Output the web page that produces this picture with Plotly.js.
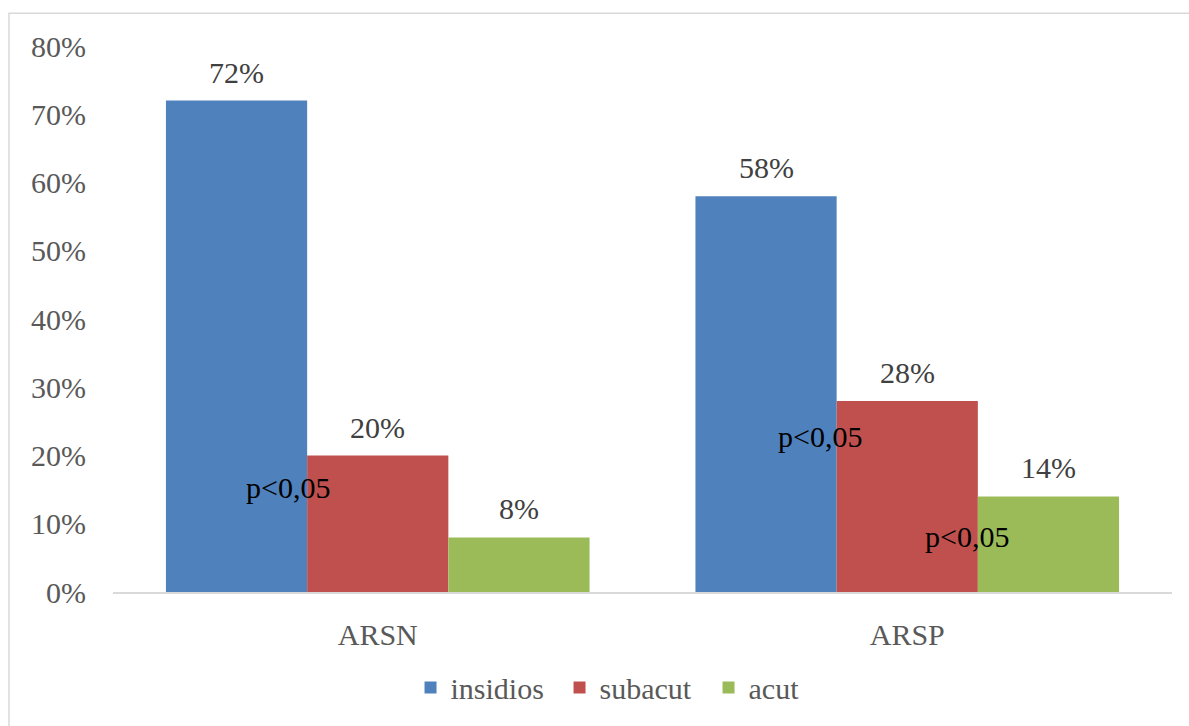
<!DOCTYPE html>
<html>
<head>
<meta charset="utf-8">
<script src="https://cdn.plot.ly/plotly-3.0.1.min.js"></script>
<style>html,body{margin:0;padding:0;background:#fff;}#chart{width:1189px;height:726px;}</style>
</head>
<body>
<div id="chart"></div>
<script>
const categories = ["ARSN", "ARSP"];
const seriesNames = ["insidios", "subacut", "acut"];
const insidios = [0.72, 0.58];
const subacut = [0.20, 0.28];
const acut = [0.08, 0.14];
const seriesColors = ["#4F81BD", "#C0504D", "#9BBB59"];
const yTickVals = [0, 0.1, 0.2, 0.3, 0.4, 0.5, 0.6, 0.7, 0.8];

// p-value annotations
const pLabelText = ["p<0,05", "p<0,05", "p<0,05"];
const pLabelCat = [0, 1, 1];
const pLabelOffset = [-0.17, -0.165, 0.113];
const pLabelY = [0.153, 0.228, 0.082];

const serif = "Liberation Serif, Times New Roman, serif";
const seriesValues = [insidios, subacut, acut];
const bargap = 0.2;
const nSeries = seriesValues.length;

const traces = seriesValues.map((vals, i) => ({
  type: "bar",
  name: seriesNames[i],
  x: categories,
  y: vals,
  marker: {color: seriesColors[i]},
  hoverinfo: "skip"
}));

// value labels above bars, placed through the axis scales
const valueLabels = [];
seriesValues.forEach((vals, i) => {
  const off = (i - (nSeries - 1) / 2) * (1 - bargap) / nSeries;
  vals.forEach((v, c) => {
    valueLabels.push({
      xref: "x", yref: "y",
      x: c + off, y: v,
      yanchor: "bottom",
      yshift: 10,
      text: Math.round(v * 100) + "%",
      showarrow: false,
      font: {family: serif, size: 30, color: "#404040"}
    });
  });
});

const pLabels = pLabelText.map((t, i) => ({
  xref: "x", yref: "y",
  x: pLabelCat[i] + pLabelOffset[i],
  y: pLabelY[i],
  text: t.replace("<", "&lt;"),
  showarrow: false,
  font: {family: serif, size: 30, color: "#000000"}
}));

const layout = {
  width: 1189, height: 726,
  margin: {l: 113, r: 17, t: 46, b: 132},
  paper_bgcolor: "#ffffff",
  plot_bgcolor: "#ffffff",
  font: {family: serif, size: 30, color: "#595959"},
  barmode: "group",
  bargap: bargap,
  bargroupgap: 0,
  showlegend: true,
  legend: {
    orientation: "h",
    x: 0.492, xanchor: "center",
    y: -0.175, yanchor: "middle",
    font: {family: serif, size: 30, color: "#595959"},
    traceorder: "normal",
    entrywidth: 104,
    entrywidthmode: "pixels"
  },
  xaxis: {
    type: "category",
    showline: true, linecolor: "#d9d9d9", linewidth: 2,
    ticks: "", showgrid: false,
    tickfont: {family: serif, size: 30, color: "#595959"},
    ticklabelstandoff: 15
  },
  yaxis: {
    range: [0, 0.8],
    tickvals: yTickVals,
    tickformat: ".0%",
    showgrid: false, zeroline: false, showline: false,
    ticks: "",
    tickfont: {family: serif, size: 30, color: "#595959"},
    ticklabelstandoff: 26
  },
  annotations: valueLabels.concat(pLabels),
  shapes: [{
    type: "rect", xref: "paper", yref: "paper",
    x0: -0.0982, x1: 1.05, y0: -0.3, y1: 1.0602,
    line: {color: "#d9d9d9", width: 1.5},
    fillcolor: "rgba(0,0,0,0)",
    layer: "below"
  }]
};

Plotly.newPlot("chart", traces, layout, {displayModeBar: false, staticPlot: true});
</script>
</body>
</html>
